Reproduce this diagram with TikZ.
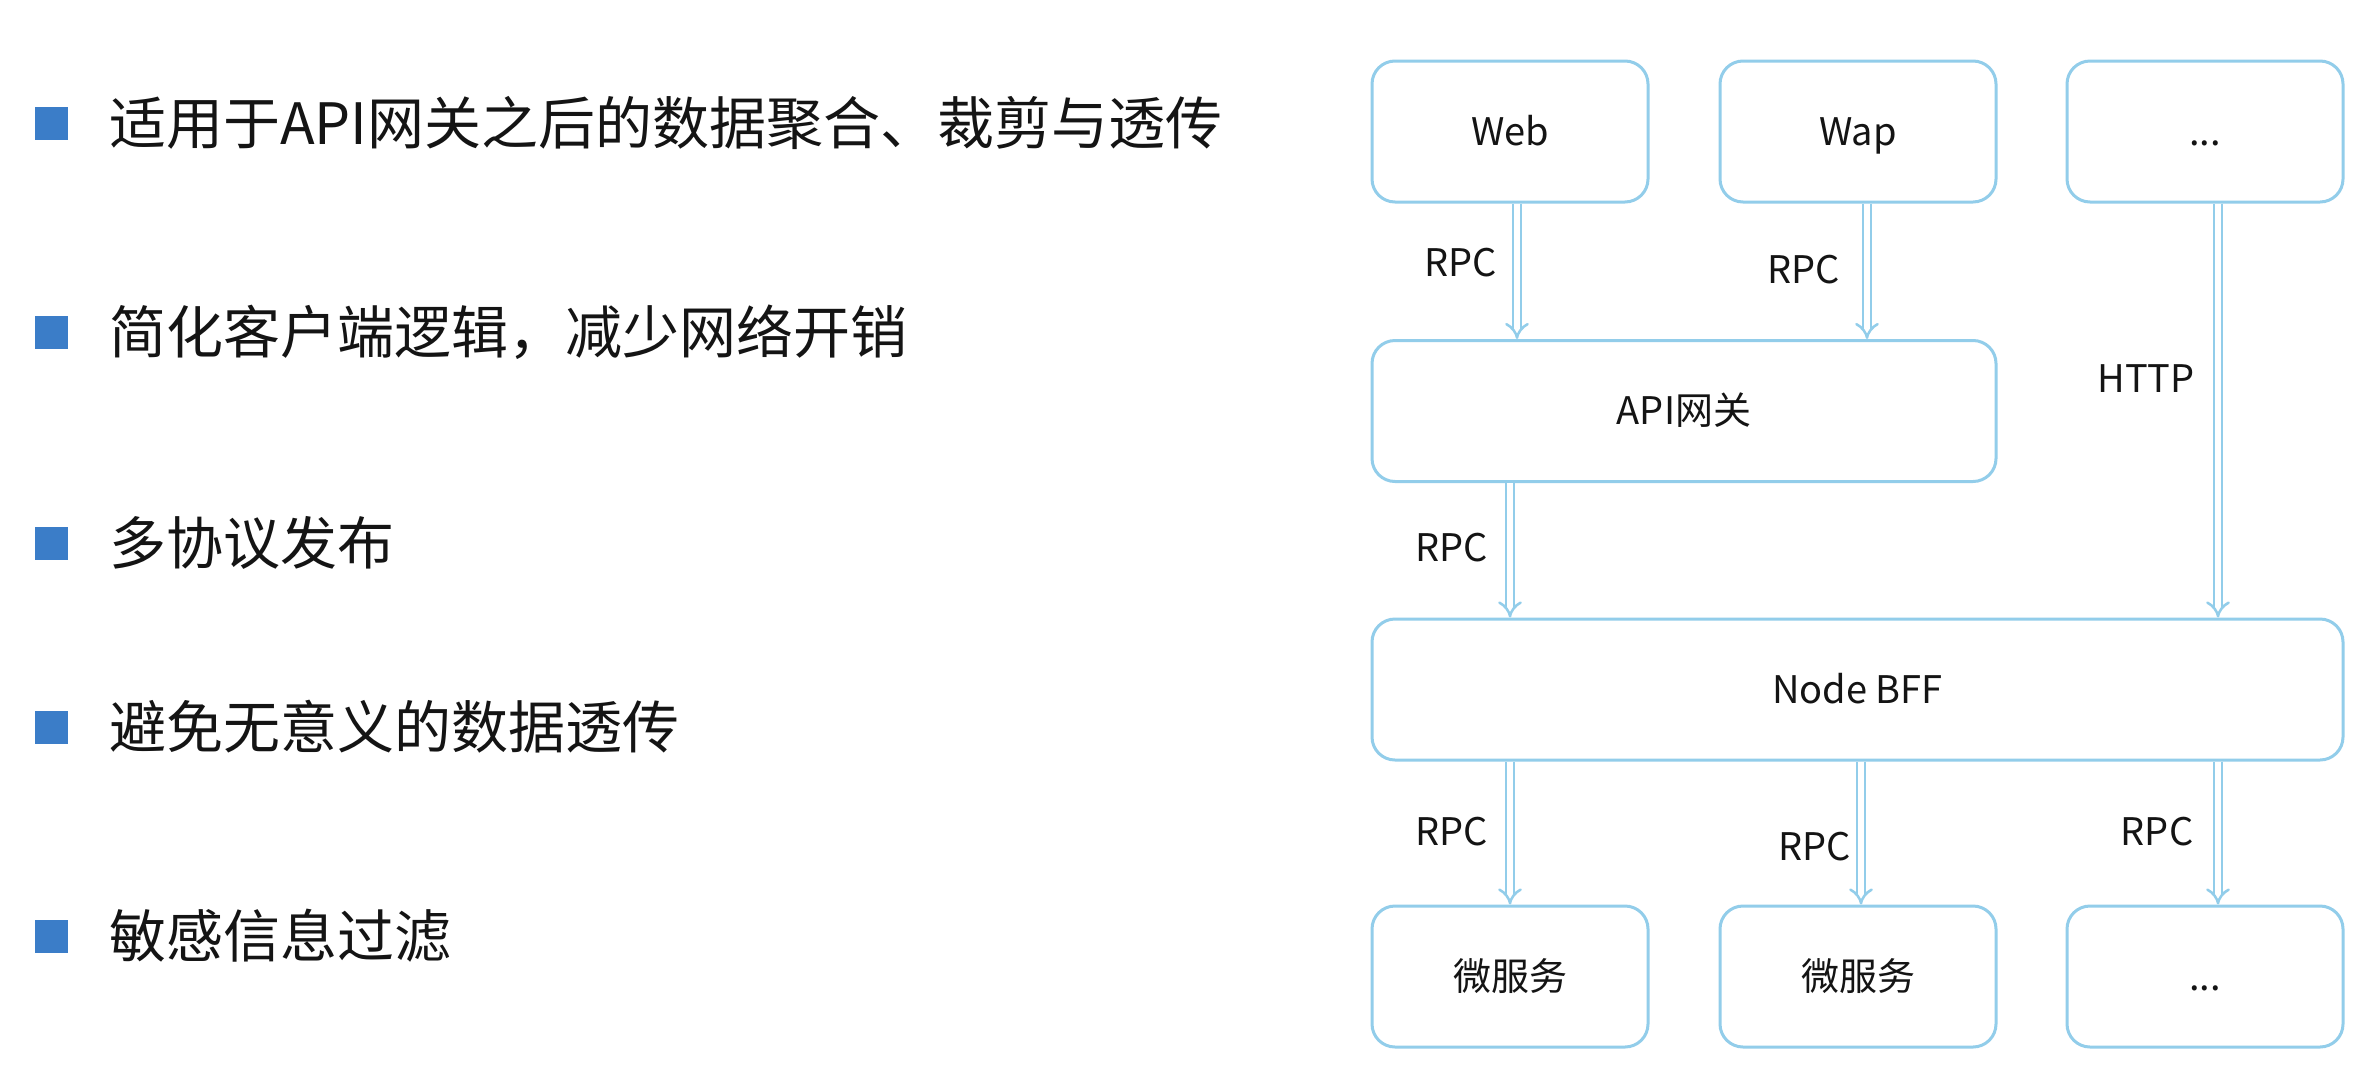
\documentclass[tikz,border=0pt]{standalone}
\usepackage{fontspec}
\setmainfont{Noto Sans CJK SC}
\usetikzlibrary{arrows.meta}
\definecolor{bulletblue}{HTML}{3B7DC8}
\definecolor{edgeblue}{HTML}{92CDEA}
\definecolor{ink}{HTML}{141414}
\tikzset{
  box/.style={draw=edgeblue, line width=3pt, rounded corners=23pt, fill=white,
    minimum height=141pt, inner sep=0pt, text height=27pt, text depth=0pt,
    font=\fontsize{38pt}{44pt}\selectfont, text=ink},
  smallbox/.style={box, minimum width=276pt},
  lbl/.style={font=\fontsize{38pt}{44pt}\selectfont, text=ink, inner sep=0pt,
    text height=27pt, text depth=0pt},
  link/.style={draw=edgeblue, line width=2.5pt, double=white, double distance=5.5pt, -{Implies}},
  sq/.style={fill=bulletblue, minimum size=33pt, inner sep=0pt},
  item/.style={anchor=west, inner sep=0pt, font=\fontsize{57pt}{68pt}\selectfont, text=ink}
}
\begin{document}
\begin{tikzpicture}[x=1pt, y=-1pt]
\fill[white] (0,0) rectangle (2376,1082);
\useasboundingbox (0,0) rectangle (2376,1082);

% left bullet list
\node[sq] (b1) at (51.5,123.5) {};
\node[sq] (b2) at (51.5,332) {};
\node[sq] (b3) at (51.5,543) {};
\node[sq] (b4) at (51.5,727) {};
\node[sq] (b5) at (51.5,936) {};
\node[item] (t1) at (109,123) {适用于API网关之后的数据聚合、裁剪与透传};
\node[item] (t2) at (109,332) {简化客户端逻辑，减少网络开销};
\node[item] (t3) at (109,543) {多协议发布};
\node[item] (t4) at (109,727) {避免无意义的数据透传};
\node[item] (t5) at (109,936) {敏感信息过滤};

% diagram boxes
\node[smallbox] (web) at (1510,131.5) {Web};
\node[smallbox] (wap) at (1858,131.5) {Wap};
\node[smallbox] (more) at (2205,131.5) {...};
\node[box, minimum width=624pt] (api) at (1684,411) {API网关};
\node[box, minimum width=971pt] (bff) at (1857.5,689.5) {Node BFF};
\node[smallbox] (ms1) at (1510,976.5) {微服务};
\node[smallbox] (ms2) at (1858,976.5) {微服务};
\node[smallbox] (ms3) at (2205,976.5) {...};

% connectors
\draw[link] ([xshift=7pt]web.south) -- ([xshift=7pt]web.south |- api.north);
\draw[link] ([xshift=9pt]wap.south) -- ([xshift=9pt]wap.south |- api.north);
\draw[link] ([xshift=13pt]more.south) -- ([xshift=13pt]more.south |- bff.north);
\draw[link] (api.south -| web.south) -- (bff.north -| web.south);
\draw[link] (bff.south -| ms1.north) -- (ms1.north);
\draw[link] ([xshift=3pt]ms2.north |- bff.south) -- ([xshift=3pt]ms2.north);
\draw[link] ([xshift=13pt]ms3.north |- bff.south) -- ([xshift=13pt]ms3.north);

% connector labels
\node[lbl] (l1) at (1461,263) {RPC};
\node[lbl] (l2) at (1804,270) {RPC};
\node[lbl] (l3) at (2146,379) {HTTP};
\node[lbl] (l4) at (1452,548) {RPC};
\node[lbl] (l5) at (1452,832) {RPC};
\node[lbl] (l6) at (1815,847) {RPC};
\node[lbl] (l7) at (2157,832) {RPC};
\end{tikzpicture}
\end{document}
